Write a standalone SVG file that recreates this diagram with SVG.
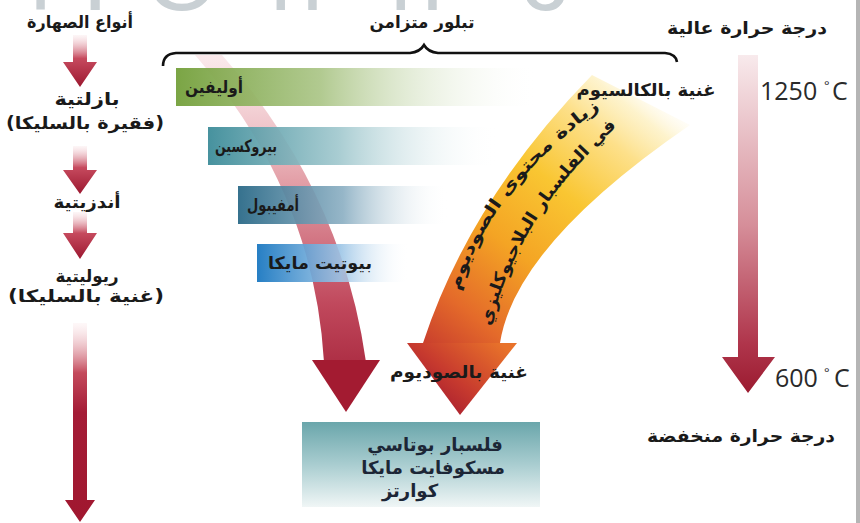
<svg xmlns="http://www.w3.org/2000/svg" width="860" height="523" viewBox="0 0 860 523">
<defs>
<style>
.ar{font-family:"DejaVu Sans","Noto Sans",sans-serif;font-weight:bold;fill:#1a1a1a;text-anchor:middle;font-size:17px}
.lat{font-family:"Open Sans","Noto Sans",sans-serif;fill:#2a2a2a}
.wm{font-family:"Liberation Sans",sans-serif;font-size:95px;fill:#c9d0d4}
.bx{fill:#1c2636;font-size:18px}
</style>
<linearGradient id="gArrow" x1="0" y1="0" x2="0" y2="1">
<stop offset="0" stop-color="#f8e1e4" stop-opacity="0.3"/>
<stop offset="0.45" stop-color="#c64a5e"/>
<stop offset="1" stop-color="#9c1830"/>
</linearGradient>
<linearGradient id="gLong" x1="0" y1="323" x2="0" y2="522" gradientUnits="userSpaceOnUse">
<stop offset="0" stop-color="#fbe8ea" stop-opacity="0.3"/>
<stop offset="0.25" stop-color="#c44a5c"/>
<stop offset="0.45" stop-color="#a41c36"/>
<stop offset="1" stop-color="#a0172f"/>
</linearGradient>
<linearGradient id="gTemp" x1="0" y1="55" x2="0" y2="393" gradientUnits="userSpaceOnUse">
<stop offset="0" stop-color="#f8eaec"/>
<stop offset="0.5" stop-color="#d68f9a"/>
<stop offset="0.85" stop-color="#b0364c"/>
<stop offset="1" stop-color="#9b1b30"/>
</linearGradient>
<linearGradient id="gRedBand" x1="0" y1="55" x2="0" y2="412" gradientUnits="userSpaceOnUse">
<stop offset="0" stop-color="#f6d4d8" stop-opacity="0.5"/>
<stop offset="0.35" stop-color="#e3a0a8"/>
<stop offset="0.7" stop-color="#c0485c"/>
<stop offset="1" stop-color="#9e1a31"/>
</linearGradient>
<linearGradient id="gOrange" x1="670" y1="90" x2="430" y2="390" gradientUnits="userSpaceOnUse">
<stop offset="0" stop-color="#ffffff" stop-opacity="0"/>
<stop offset="0.1" stop-color="#fdf0c0" stop-opacity="0.8"/>
<stop offset="0.2" stop-color="#fde08a"/>
<stop offset="0.38" stop-color="#f9c632"/>
<stop offset="0.58" stop-color="#f4a424"/>
<stop offset="0.78" stop-color="#e46a2a"/>
<stop offset="1" stop-color="#b8242f"/>
</linearGradient>
<linearGradient id="gOrangeHead" x1="500" y1="343" x2="440" y2="415" gradientUnits="userSpaceOnUse">
<stop offset="0" stop-color="#e8722a"/>
<stop offset="0.6" stop-color="#c73a2e"/>
<stop offset="1" stop-color="#a51c30"/>
</linearGradient>
<linearGradient id="gOl" x1="0" y1="0" x2="1" y2="0">
<stop offset="0" stop-color="#74a03b" stop-opacity="0.95"/>
<stop offset="0.4" stop-color="#a9c484" stop-opacity="0.9"/>
<stop offset="1" stop-color="#ffffff" stop-opacity="0"/>
</linearGradient>
<linearGradient id="gPy" x1="0" y1="0" x2="1" y2="0">
<stop offset="0" stop-color="#3d8c99" stop-opacity="0.95"/>
<stop offset="0.45" stop-color="#9fc7cd" stop-opacity="0.9"/>
<stop offset="1" stop-color="#ffffff" stop-opacity="0"/>
</linearGradient>
<linearGradient id="gAm" x1="0" y1="0" x2="1" y2="0">
<stop offset="0" stop-color="#2b6a88" stop-opacity="0.95"/>
<stop offset="0.5" stop-color="#8aaec2" stop-opacity="0.9"/>
<stop offset="1" stop-color="#ffffff" stop-opacity="0"/>
</linearGradient>
<linearGradient id="gBi" x1="0" y1="0" x2="1" y2="0">
<stop offset="0" stop-color="#1b78c1" stop-opacity="0.95"/>
<stop offset="0.55" stop-color="#9cc5e6" stop-opacity="0.9"/>
<stop offset="1" stop-color="#ffffff" stop-opacity="0"/>
</linearGradient>
<linearGradient id="gBox" x1="0" y1="0" x2="0" y2="1">
<stop offset="0" stop-color="#6aa6ab"/>
<stop offset="0.5" stop-color="#a9cdd0"/>
<stop offset="1" stop-color="#f0f6f6"/>
</linearGradient>
<path id="tp1" d="M452,322 Q474,190 626,90"/>
<path id="tp2" d="M486,348 Q510,214 634,112"/>
</defs>

<rect width="860" height="523" fill="#ffffff"/>

<g id="watermark">
<text class="wm" x="30" y="10">l</text>
<text class="wm" x="82" y="10">.</text>
<text class="wm" x="145" y="10">O</text>
<text class="wm" x="270" y="10">n</text>
<text class="wm" x="390" y="10">n</text>
<text class="wm" x="520" y="10">c</text>
</g>
<rect x="856" y="0" width="4" height="523" fill="#b5b5b5"/>

<g id="connectors">
<path id="arrow-magma1" d="M73,35 H87 V62 H97 L80,87 L63,62 H73 Z" fill="url(#gArrow)"/>
<path id="arrow-magma2" d="M73,146 H87 V170 H97 L80,194 L63,170 H73 Z" fill="url(#gArrow)"/>
<path id="arrow-magma3" d="M73,212 H87 V233 H97 L80,259 L63,233 H73 Z" fill="url(#gArrow)"/>
<path id="arrow-long" d="M73,323 H87 V500 H95 L80,522 L65,500 H73 Z" fill="url(#gLong)"/>
<path id="arrow-temp" d="M738,55 H758 V357 H775 L748,393 L722,357 H738 Z" fill="url(#gTemp)"/>
<g id="arrow-mafic">
<path d="M195,55 Q314,191 324,362 L366,362 Q342,191 222,55 Z" fill="url(#gRedBand)"/>
<path d="M312,360 L380,360 L346,412 Z" fill="#a31b31"/>
</g>
<g id="arrow-plagioclase">
<path d="M592,75 Q470,200 423,343 L500,343 Q515,245 690,125 Z" fill="url(#gOrange)"/>
<path d="M407,343 L517,343 L460,415 Z" fill="url(#gOrangeHead)"/>
</g>
<path id="bracket" d="M163,66 Q163,54 176,53 L410,53 Q420,52 424,45 Q428,52 438,53 L665,53 Q676,54 677,62" fill="none" stroke="#111" stroke-width="2.6"/>
</g>

<g id="title-magma"><text class="ar" x="80" y="28" textLength="106" lengthAdjust="spacingAndGlyphs">أنواع الصهارة</text></g>
<g id="title-cryst"><text class="ar" x="422" y="28" textLength="105" lengthAdjust="spacingAndGlyphs">تبلور متزامن</text></g>
<g id="title-high"><text class="ar" x="747" y="34" textLength="160" lengthAdjust="spacingAndGlyphs">درجة حرارة عالية</text></g>

<g id="node-basalt">
<text class="ar" x="87" y="105" textLength="65" lengthAdjust="spacingAndGlyphs">بازلتية</text>
<text class="ar" x="85" y="129" textLength="158" lengthAdjust="spacingAndGlyphs">(فقيرة بالسليكا)</text>
</g>
<g id="node-andesite"><text class="ar" x="87" y="208" textLength="67" lengthAdjust="spacingAndGlyphs">أندزيتية</text></g>
<g id="node-rhyolite">
<text class="ar" x="87" y="282" textLength="63" lengthAdjust="spacingAndGlyphs">ريوليتية</text>
<text class="ar" x="86" y="302" textLength="156" lengthAdjust="spacingAndGlyphs">(غنية بالسليكا)</text>
</g>

<g id="node-olivine">
<rect x="176" y="68" width="362" height="38" fill="url(#gOl)"/>
<text class="ar" x="214" y="93" textLength="58" lengthAdjust="spacingAndGlyphs">أوليفين</text>
</g>
<g id="node-pyroxene">
<rect x="208" y="127" width="290" height="38" fill="url(#gPy)"/>
<text class="ar" x="246" y="152" textLength="62" lengthAdjust="spacingAndGlyphs">بيروكسين</text>
</g>
<g id="node-amphibole">
<rect x="238" y="186" width="210" height="38" fill="url(#gAm)"/>
<text class="ar" x="273" y="211" textLength="52" lengthAdjust="spacingAndGlyphs">أمفيبول</text>
</g>
<g id="node-biotite">
<rect x="257" y="244" width="152" height="38" fill="url(#gBi)"/>
<text class="ar" x="320" y="269" textLength="104" lengthAdjust="spacingAndGlyphs">بيوتيت مايكا</text>
</g>

<g id="label-calcium"><text class="ar" x="646" y="96" textLength="139" lengthAdjust="spacingAndGlyphs">غنية بالكالسيوم</text></g>
<g id="label-plag">
<text class="ar" font-size="16"><textPath href="#tp1" startOffset="50%" textLength="235" lengthAdjust="spacingAndGlyphs">زيادة محتوى الصوديوم</textPath></text>
<text class="ar" font-size="16"><textPath href="#tp2" startOffset="50%" textLength="240" lengthAdjust="spacingAndGlyphs">في الفلسبار البلاجيوكليزي</textPath></text>
</g>
<g id="label-sodium"><text class="ar" x="459" y="378" textLength="138" lengthAdjust="spacingAndGlyphs">غنية بالصوديوم</text></g>

<g id="node-final">
<rect x="302" y="422" width="238" height="85" fill="url(#gBox)"/>
<text class="ar bx" x="435" y="451">فلسبار بوتاسي</text>
<text class="ar bx" x="433" y="474">مسكوفايت مايكا</text>
<text class="ar bx" x="410" y="497">كوارتز</text>
</g>

<g id="temp-labels">
<text class="lat" x="760" y="100" font-size="25">1250</text>
<text class="lat" x="824" y="90" font-size="13">°</text>
<text class="lat" x="832" y="100" font-size="25">C</text>
<text class="lat" x="775" y="387" font-size="25">600</text>
<text class="lat" x="824" y="377" font-size="13">°</text>
<text class="lat" x="834" y="387" font-size="25">C</text>
<text class="ar" x="741" y="442" textLength="188" lengthAdjust="spacingAndGlyphs">درجة حرارة منخفضة</text>
</g>
</svg>
